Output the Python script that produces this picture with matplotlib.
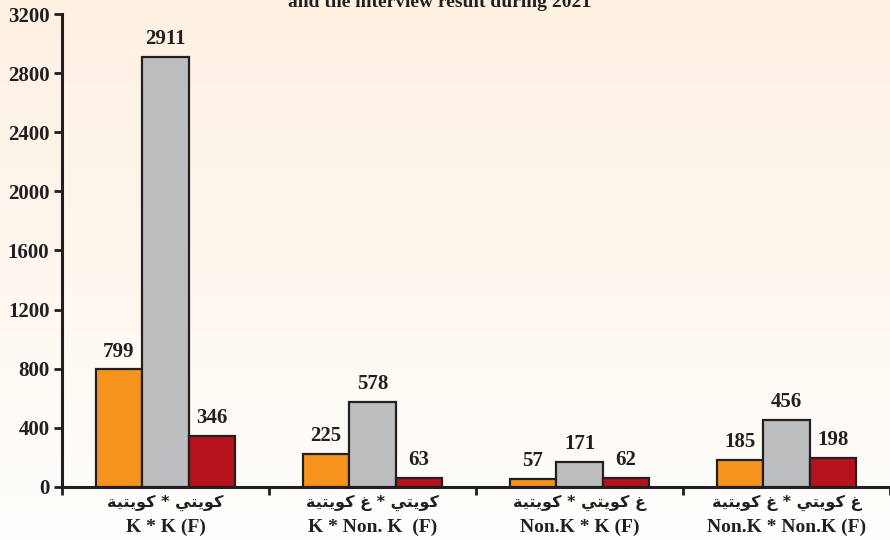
import numpy as np
import matplotlib
matplotlib.use("Agg")
import matplotlib.pyplot as plt
from matplotlib.transforms import blended_transform_factory

# Values
groups_en = ["K * K (F)", "K * Non. K  (F)", "Non.K * K (F)", "Non.K * Non.K (F)"]
groups_ar = ["كويتي * كويتية", "كويتي * غ كويتية", "غ كويتي * كويتية", "غ كويتي * غ كويتية"]
series1 = [799, 225, 57, 185]
series2 = [2911, 578, 171, 456]
series3 = [346, 63, 62, 198]
yticks = [0, 400, 800, 1200, 1600, 2000, 2400, 2800, 3200]
title_line = "and the interview result during 2021"

colors = ["#F7941D", "#BCBEC0", "#B5121B"]
edge = "#231F20"

# matplotlib has no Arabic shaping, so pick presentation forms by hand
# letter: (isolated, final, initial, medial); None means joins on the right only
forms = {
    "ك": ("\uFED9", "\uFEDA", "\uFEDB", "\uFEDC"),
    "و": ("\uFEED", "\uFEEE", None, None),
    "ي": ("\uFEF1", "\uFEF2", "\uFEF3", "\uFEF4"),
    "ت": ("\uFE95", "\uFE96", "\uFE97", "\uFE98"),
    "ة": ("\uFE93", "\uFE94", None, None),
    "غ": ("\uFECD", "\uFECE", "\uFECF", "\uFED0"),
}


def shape_word(word):
    out = []
    for i, ch in enumerate(word):
        f = forms.get(ch)
        if f is None:
            out.append(ch)
            continue
        prev_joins = i > 0 and word[i - 1] in forms and forms[word[i - 1]][2] is not None
        next_joins = i < len(word) - 1 and word[i + 1] in forms and f[2] is not None
        if prev_joins and next_joins:
            out.append(f[3])
        elif prev_joins:
            out.append(f[1])
        elif next_joins:
            out.append(f[2])
        else:
            out.append(f[0])
    return "".join(out)


def arabic(text):
    shaped = " ".join(shape_word(w) for w in text.split(" "))
    return shaped[::-1]


serif = ["Liberation Serif", "DejaVu Serif"]
plt.rcParams["font.family"] = serif
plt.rcParams["font.weight"] = "bold"

fig = plt.figure(figsize=(8.9, 5.4), dpi=100)

# gradient background
bg = fig.add_axes([0, 0, 1, 1], zorder=-10)
top = np.array([253, 241, 226]) / 255
bot = np.array([255, 254, 252]) / 255
t = np.linspace(0, 1, 256)[:, None]
grad = top * (1 - t) + bot * t
bg.imshow(grad[:, None, :], aspect="auto", extent=[0, 1, 0, 1])
bg.axis("off")

ax = fig.add_axes([62 / 890, 53 / 540, 1 - 62 / 890, (487 - 14) / 540])
ax.patch.set_alpha(0)

x = np.arange(len(groups_en))
w = 0.225
for k, vals in enumerate([series1, series2, series3]):
    pos = x + (k - 1) * w
    ax.bar(pos, vals, w, color=colors[k], edgecolor=edge, linewidth=1.6, zorder=3)
    for px, v in zip(pos, vals):
        ax.text(px, v + 50, str(v), ha="center", va="bottom",
                fontsize=15, fontweight="bold", color=edge)

ax.set_xlim(-0.5, 3.5)
ax.set_ylim(0, 3200)
ax.set_yticks(yticks)
ax.set_yticklabels([str(v) for v in yticks], fontsize=15, fontweight="bold", color=edge)
ax.set_xticks(np.arange(-0.5, 4.0, 1.0))
ax.set_xticklabels([])
ax.tick_params(axis="y", direction="out", length=6, width=2, color=edge, pad=3)
ax.tick_params(axis="x", direction="out", length=6, width=2, color=edge)

for s in ["top", "right"]:
    ax.spines[s].set_visible(False)
for s in ["left", "bottom"]:
    ax.spines[s].set_linewidth(2.2)
    ax.spines[s].set_color(edge)

tr = blended_transform_factory(ax.transData, ax.transAxes)
for i in range(len(groups_en)):
    ax.text(x[i], -0.034, arabic(groups_ar[i]), transform=tr, ha="center", va="center",
            fontsize=11.5, fontweight="bold", color=edge,
            family=["DejaVu Sans"])
    ax.text(x[i], -0.085, groups_en[i], transform=tr, ha="center", va="center",
            fontsize=14, fontweight="bold", color=edge)

fig.text(440 / 890, 1 - 7 / 540, title_line, ha="center", va="baseline",
         fontsize=14, fontweight="bold", color=edge)

fig.savefig("out.png", dpi=100)
